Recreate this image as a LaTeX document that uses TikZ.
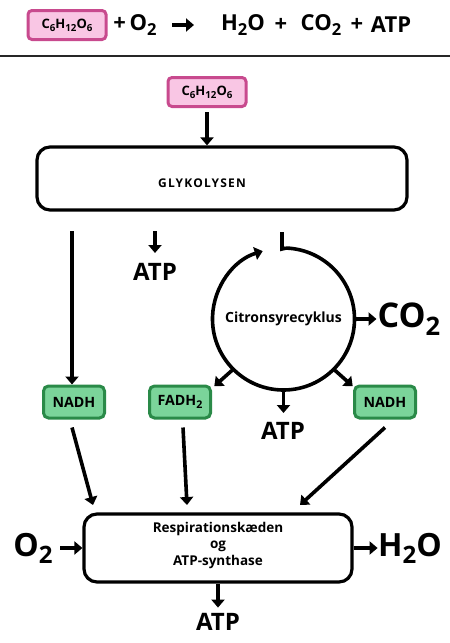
\documentclass[tikz,border=0pt]{standalone}
\usepackage{fontspec}
\setmainfont{Open Sans}
\usetikzlibrary{arrows.meta,calc}
\definecolor{pinkfill}{HTML}{F9C6E4}
\definecolor{pinkline}{HTML}{C84A8E}
\definecolor{greenfill}{HTML}{7BD49A}
\definecolor{greenline}{HTML}{2A8A48}
\newcommand{\subs}[1]{\raisebox{-0.4ex}{\scalebox{0.75}{#1}}}
\tikzset{
  arr/.style={line width=3.6pt,-{Triangle[length=8pt,width=13pt]}},
  ln/.style={line width=3.6pt},
  pinkbox/.style={draw=pinkline,fill=pinkfill,line width=3pt,rounded corners=4pt,minimum width=78pt,minimum height=29pt,inner sep=0pt,font=\bfseries\fontsize{13}{12}\selectfont},
  greenbox/.style={draw=greenline,fill=greenfill,line width=3pt,rounded corners=5pt,minimum width=61pt,minimum height=32pt,inner sep=0pt,font=\bfseries\fontsize{14.2}{12}\selectfont},
  bigbox/.style={draw,line width=3.2pt,rounded corners=13pt},
  big/.style={font=\bfseries\fontsize{22}{24}\selectfont},
  huge/.style={font=\bfseries\fontsize{32}{34}\selectfont},
  atp/.style={font=\bfseries\fontsize{24}{22}\selectfont},
}
\begin{document}
\begin{tikzpicture}[x=1pt,y=-1pt]
\useasboundingbox (0,0) rectangle (450,643);
% top equation
\node[pinkbox] (g0) at (67,25) {C\subs{6}H\subs{12}O\subs{6}};
\node[big] (o2t) at (135,25) {+\,O\subs{2}};
\coordinate (ta1) at (172,25);
\coordinate (ta2) at (194,25);
\draw[arr] (ta1) -- (ta2);
\node[big] (h2ot) at (243,25) {H\subs{2}O};
\node[big] (p1) at (281,25) {+};
\node[big] (co2t) at (321,25) {CO\subs{2}};
\node[big] (p2) at (357,25) {+};
\node[big] (atpt) at (391,25) {ATP};
\coordinate (r1) at (0,56);
\coordinate (r2) at (450,56);
\draw[line width=2.5pt,black!85] (r1) -- (r2);
% glucose
\node[pinkbox] (g1) at (207,92) {C\subs{6}H\subs{12}O\subs{6}};
\node[bigbox,minimum width=370pt,minimum height=63pt] (gly) at (222,178.5) {};
\node[font=\bfseries\fontsize{12}{10}\selectfont\addfontfeatures{LetterSpace=10}] (glyt) at (202,183) {GLYKOLYSEN};
\draw[arr] (g1.south) ++(0,4) -- (gly.north -| g1.south);
% glycolysis outputs
\coordinate (n1s) at (72,231);
\node[greenbox] (nadh1) at (74,402) {NADH};
\draw[arr] (n1s) -- (nadh1.north -| n1s);
\coordinate (a1s) at (155,231);
\node[atp] (atp1) at (155,272) {ATP};
\draw[arr] (a1s) -- ++(0,22);
% citric cycle
\coordinate (cc) at (283.5,319);
\node[font=\bfseries\fontsize{14}{12}\selectfont] (cyc) at (cc) {Citronsyrecyklus};
\coordinate (stub) at (282,232);
\draw[ln] (stub) -- (282,249) -- ($(cc)+(-88:71)$) ;
\draw[arr] ($(cc)+(-88:71)$) arc[start angle=-88,end angle=253,radius=71];
% outputs of cycle
\node[huge,font=\bfseries\fontsize{34}{34}\selectfont] (co2) at (409,319) {CO\subs{2}};
\draw[arr] ($(cc)+(0:71)$) -- ++(22,0);
\node[greenbox] (fadh) at (180,402) {FADH\subs{2}};
\node[greenbox] (nadh2) at (385,402) {NADH};
\draw[arr] ($(cc)+(135:71)$) -- ++(-19,17);
\draw[arr] ($(cc)+(45:71)$) -- ++(19,17);
\draw[arr] ($(cc)+(90:71)$) -- ++(0,23);
\node[atp] (atp2) at (283,431) {ATP};
% respiration chain
\node[bigbox,minimum width=268pt,minimum height=68pt] (resp) at (218,548) {};
\node[font=\bfseries\fontsize{13.5}{16.5}\selectfont,align=center] (respt) at (218,545) {Respirationskæden\\og\\ATP-synthase};
\draw[arr] (nadh1.south) ++(-2,8) -- (93,505);
\draw[arr] (fadh.south) ++(3,8) -- (187,505);
\draw[arr] (nadh2.south) ++(0,8) -- (300,505);
\node[huge] (o2) at (33,548) {O\subs{2}};
\draw[arr] (o2.east) ++(4,0) -- (resp.west);
\node[huge] (h2o) at (410,548) {H\subs{2}O};
\draw[arr] (resp.east) -- ++(24,0);
\draw[arr] (resp.south) -- ++(0,24);
\node[atp] (atp3) at (218,622) {ATP};
\end{tikzpicture}
\end{document}
